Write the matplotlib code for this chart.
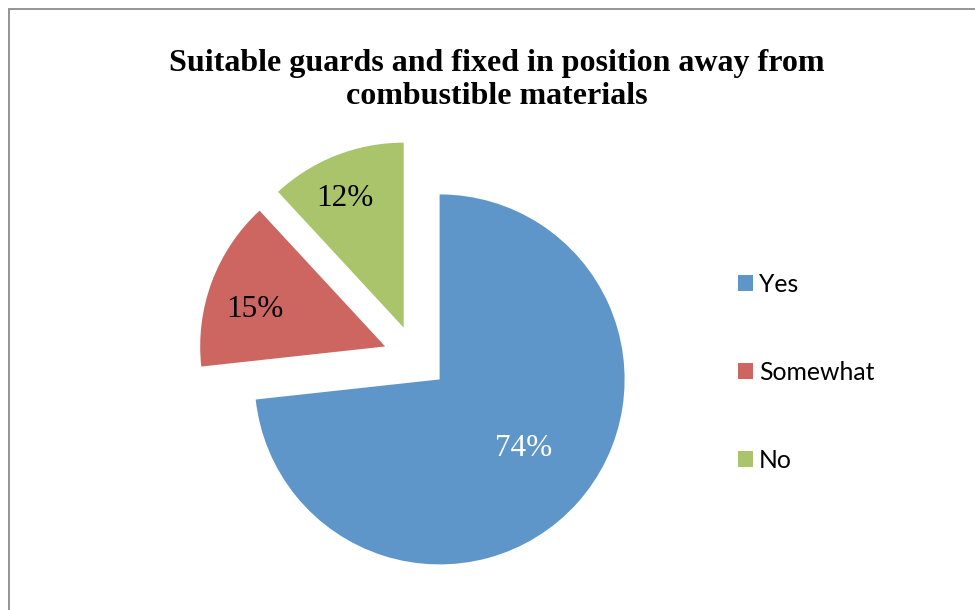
import matplotlib
matplotlib.use("Agg")
import matplotlib.pyplot as plt
import numpy as np
from matplotlib.patches import Rectangle

categories = ["Yes", "Somewhat", "No"]
values = [74, 15, 12]
pct_labels = ["74%", "15%", "12%"]
colors = ["#5F96CA", "#CD6661", "#AAC46C"]
label_colors = ["white", "black", "black"]
title = "Suitable guards and fixed in position away from\ncombustible materials"

W, H = 975, 610
R_PX = 185.0
CX, CY = 415.5, 357.8  # pie centre in pixels (from top-left)

fig = plt.figure(figsize=(W / 100, H / 100), dpi=100)
fig.patch.set_facecolor("white")

# outer chart-area border (runs off the right and bottom edges)
fig.add_artist(Rectangle((8.5 / W, -0.1), (W + 20) / W, 1.1 - 8.5 / H,
                         transform=fig.transFigure, fill=False,
                         edgecolor="#8C8C8C", linewidth=1.3))

ax = fig.add_axes([0, 0, 1, 1])
wedges, _ = ax.pie(values, colors=colors, startangle=90, counterclock=False,
                   explode=[0.175, 0.175, 0.175], radius=1.0, center=(0, 0),
                   wedgeprops=dict(linewidth=0))
ax.set_aspect("auto")
ax.set_xlim(-CX / R_PX, (W - CX) / R_PX)
ax.set_ylim((CY - H) / R_PX, CY / R_PX)
ax.axis("off")

# percentage labels placed near each wedge's bisector
label_dist = [0.578, 0.739, 0.779]
label_turn = [4.0, 3.3, 2.6]  # degrees
half_cap = 10.5 / R_PX
for w, txt, col, d, t in zip(wedges, pct_labels, label_colors,
                             label_dist, label_turn):
    mid = np.deg2rad((w.theta1 + w.theta2) / 2 + t)
    cx, cy = w.center
    ax.text(cx + d * w.r * np.cos(mid), cy + d * w.r * np.sin(mid) - half_cap,
            txt, ha="center", va="baseline", color=col, fontsize=22.5,
            family="Liberation Serif")

fig.text(497 / W, 1 - 103.5 / H, title, ha="center", va="baseline",
         fontsize=23, fontweight="bold", family="Liberation Serif",
         linespacing=1.15, multialignment="center")

fs = 17.8
fs_px = fs * 100 / 72
leg = ax.legend(wedges, categories, loc="upper left",
                bbox_to_anchor=(738 / W, 1 - 272.5 / H),
                bbox_transform=fig.transFigure, frameon=False,
                prop=dict(family="Lato", size=fs),
                handlelength=15 / fs_px, handleheight=15 / fs_px,
                handletextpad=6 / fs_px, labelspacing=2.63,
                borderpad=0, borderaxespad=0)

fig.savefig("out.png", dpi=100, facecolor="white")
